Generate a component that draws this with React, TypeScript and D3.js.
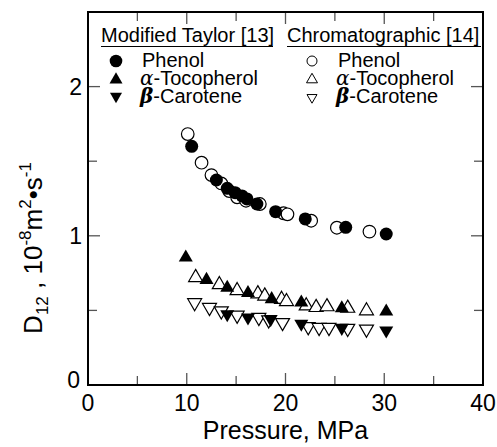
import React from "react";
import * as d3 from "d3";

const phenolTaylorX = [10.5, 13.0, 14.1, 14.9, 15.6, 16.1, 17.1, 19.0, 22.0, 26.1, 30.2];
const phenolTaylorY = [1.60, 1.374, 1.318, 1.289, 1.267, 1.247, 1.213, 1.162, 1.113, 1.057, 1.012];
const phenolChromX = [10.1, 11.5, 12.5, 13.5, 14.3, 15.1, 16.0, 17.4, 19.8, 20.2, 22.6, 25.2, 28.5];
const phenolChromY = [1.682, 1.49, 1.407, 1.351, 1.30, 1.258, 1.235, 1.213, 1.151, 1.144, 1.101, 1.054, 1.028];
const tocoTaylorX = [9.9, 12.0, 14.1, 16.2, 18.6, 21.6, 25.7, 30.2];
const tocoTaylorY = [0.86, 0.71, 0.657, 0.622, 0.581, 0.558, 0.52, 0.498];
const tocoChromX = [10.9, 13.3, 15.1, 17.2, 17.9, 19.6, 20.1, 22.1, 23.1, 24.2, 26.3, 28.2];
const tocoChromY = [0.726, 0.678, 0.638, 0.617, 0.602, 0.58, 0.565, 0.536, 0.525, 0.53, 0.52, 0.503];
const caroTaylorX = [14.1, 16.2, 18.5, 21.6, 25.7, 30.2];
const caroTaylorY = [0.469, 0.447, 0.436, 0.405, 0.378, 0.36];
const caroChromX = [10.8, 12.3, 13.5, 15.1, 17.3, 18.3, 19.7, 22.3, 23.4, 24.4, 26.3, 28.2];
const caroChromY = [0.546, 0.514, 0.491, 0.462, 0.447, 0.431, 0.413, 0.385, 0.38, 0.38, 0.374, 0.369];

const xTicks = [0, 10, 20, 30, 40];
const xMinor = [5, 15, 25, 35];
const yTicks = [0, 1, 2];
const yMinor = [0.5, 1.5];

const W = 497, H = 447;
const L = 88, R = 483, T = 12, B = 385;
const FONT = "'Liberation Sans', Arial, Helvetica, sans-serif";

function triUp(cx: number, cy: number, s: number) {
  const h = s * 0.866;
  return `M${cx},${cy - h * 0.6}L${cx + s / 2},${cy + h * 0.4}L${cx - s / 2},${cy + h * 0.4}Z`;
}
function triDown(cx: number, cy: number, s: number) {
  const h = s * 0.866;
  return `M${cx},${cy + h * 0.6}L${cx + s / 2},${cy - h * 0.4}L${cx - s / 2},${cy - h * 0.4}Z`;
}

export default function App() {
  const x = d3.scaleLinear().domain([0, 40]).range([L, R]);
  const y = d3.scaleLinear().domain([0, 2.5]).range([B, T]);
  const zip = (xs: number[], ys: number[]) => xs.map((v, i) => [v, ys[i]] as [number, number]);

  const S = 14;
  const openStyle = { fill: "white", stroke: "black", strokeWidth: 1.2 };
  return (
    <svg width={W} height={H} style={{ position: "absolute", left: 0, top: 0, background: "white" }}>
      <rect x={0} y={0} width={W} height={H} fill="white" />
      {xTicks.slice(1, -1).map((t) => (
        <g key={"xt" + t}>
          <line x1={x(t)} x2={x(t)} y1={B} y2={B - 12} stroke="#555" strokeWidth={1.3} />
          <line x1={x(t)} x2={x(t)} y1={T} y2={T + 12} stroke="#555" strokeWidth={1.3} />
        </g>
      ))}
      {xMinor.map((t) => (
        <g key={"xm" + t}>
          <line x1={x(t)} x2={x(t)} y1={B} y2={B - 9} stroke="#555" strokeWidth={1.3} />
          <line x1={x(t)} x2={x(t)} y1={T} y2={T + 9} stroke="#555" strokeWidth={1.3} />
        </g>
      ))}
      {yTicks.slice(1).map((t) => (
        <g key={"yt" + t}>
          <line x1={L} x2={L + 12} y1={y(t)} y2={y(t)} stroke="#555" strokeWidth={1.3} />
          <line x1={R} x2={R - 12} y1={y(t)} y2={y(t)} stroke="#555" strokeWidth={1.3} />
        </g>
      ))}
      {yMinor.map((t) => (
        <g key={"ym" + t}>
          <line x1={L} x2={L + 9} y1={y(t)} y2={y(t)} stroke="#555" strokeWidth={1.3} />
          <line x1={R} x2={R - 9} y1={y(t)} y2={y(t)} stroke="#555" strokeWidth={1.3} />
        </g>
      ))}
      <rect x={L} y={T} width={R - L} height={B - T} fill="none" stroke="black" strokeWidth={2} />

      {xTicks.map((t) => (
        <text key={"xl" + t} x={x(t)} y={411} fontSize={23} fontFamily={FONT} textAnchor="middle">{t}</text>
      ))}
      {yTicks.map((t) => (
        <text key={"yl" + t} x={t === 0 ? 80 : 82} y={y(t) + (t === 0 ? 3 : 8)} fontSize={23} fontFamily={FONT} textAnchor="end">{t}</text>
      ))}

      <text x={(L + R) / 2} y={439} fontSize={25} fontFamily={FONT} textAnchor="middle">Pressure, MPa</text>
      <text transform={`translate(42,248) rotate(-90)`} fontSize={26} fontFamily={FONT} textAnchor="middle">
        D<tspan fontSize={17} dy={6}>12</tspan><tspan dy={-6}> , 10</tspan><tspan fontSize={17} dy={-11}>-8</tspan><tspan dy={11}>m</tspan><tspan fontSize={17} dy={-11}>2</tspan><tspan dy={11}>•s</tspan><tspan fontSize={17} dy={-11}>-1</tspan>
      </text>

      {zip(phenolChromX, phenolChromY).map(([a, b], i) => (
        <circle key={"pc" + i} cx={x(a)} cy={y(b)} r={6.3} {...openStyle} />
      ))}
      {zip(tocoChromX, tocoChromY).map(([a, b], i) => (
        <path key={"tc" + i} d={triUp(x(a), y(b), S)} {...openStyle} />
      ))}
      {zip(caroChromX, caroChromY).map(([a, b], i) => (
        <path key={"cc" + i} d={triDown(x(a), y(b), S)} {...openStyle} />
      ))}
      {zip(phenolTaylorX, phenolTaylorY).map(([a, b], i) => (
        <circle key={"pt" + i} cx={x(a)} cy={y(b)} r={6.5} fill="black" />
      ))}
      {zip(tocoTaylorX, tocoTaylorY).map(([a, b], i) => (
        <path key={"tt" + i} d={triUp(x(a), y(b), S)} fill="black" />
      ))}
      {zip(caroTaylorX, caroTaylorY).map(([a, b], i) => (
        <path key={"ct" + i} d={triDown(x(a), y(b), S)} fill="black" />
      ))}

      <g fontFamily={FONT} fontSize={20}>
        <text x={101} y={42}>Modified Taylor [13]</text>
        <line x1={101} x2={273} y1={46.5} y2={46.5} stroke="black" strokeWidth={1} />
        <text x={287} y={42}>Chromatographic [14]</text>
        <line x1={287} x2={481} y1={46.5} y2={46.5} stroke="black" strokeWidth={1} />

        <circle cx={116} cy={61} r={6.3} fill="black" />
        <path d={triUp(116, 79, 13)} fill="black" />
        <path d={triDown(116, 97, 12)} fill="black" />
        <text x={142} y={67}>Phenol</text>
        <text x={140} y={85}><tspan fontFamily="'DejaVu Serif', serif" fontStyle="italic">α</tspan>-Tocopherol</text>
        <text x={140} y={103}><tspan fontFamily="'DejaVu Serif', serif" fontStyle="italic" fontWeight="bold">β</tspan>-Carotene</text>

        <circle cx={312} cy={61} r={5} fill="white" stroke="black" strokeWidth={1} />
        <path d={triUp(312, 79, 11)} fill="white" stroke="black" strokeWidth={1} />
        <path d={triDown(312, 98, 10)} fill="white" stroke="black" strokeWidth={1} />
        <text x={338} y={67}>Phenol</text>
        <text x={336} y={85}><tspan fontFamily="'DejaVu Serif', serif" fontStyle="italic">α</tspan>-Tocopherol</text>
        <text x={336} y={103}><tspan fontFamily="'DejaVu Serif', serif" fontStyle="italic" fontWeight="bold">β</tspan>-Carotene</text>
      </g>
    </svg>
  );
}
